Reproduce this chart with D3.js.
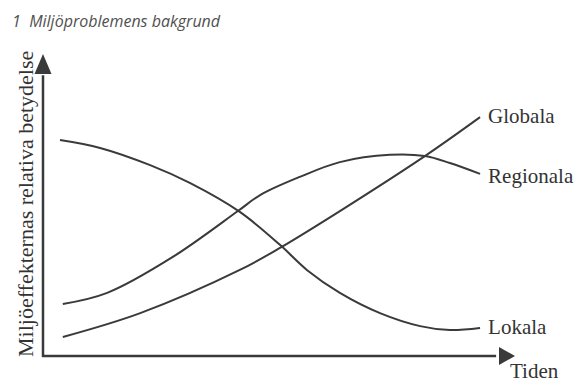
<!DOCTYPE html>
<html><head><meta charset="utf-8">
<script src="https://cdn.jsdelivr.net/npm/d3@7"></script>
<style>html,body{margin:0;padding:0;background:#fff;}svg{display:block;}</style>
</head><body>
<script>
const title = "1  Miljöproblemens bakgrund";
const yLabel = "Miljöeffekternas relativa betydelse";
const xLabel = "Tiden";
const seriesNames = ["Globala", "Regionala", "Lokala"];
const globalaX = [4.2, 20.6, 41.7, 50.2, 62.9, 80.9, 92.6];
const globalaY = [6.3, 14.2, 28.5, 35.8, 48.0, 66.2, 79.1];
const regionalaX = [4.2, 13.6, 27.5, 41.3, 46.0, 54.4, 62.9, 73.5, 80.9, 86.2, 92.6];
const regionalaY = [17.2, 20.9, 32.8, 48.0, 53.3, 59.3, 64.2, 66.6, 66.2, 63.9, 60.3];
const lokalaX = [3.6, 12.1, 22.7, 31.1, 41.7, 50.2, 55.9, 62.9, 71.4, 79.9, 86.2, 92.6];
const lokalaY = [71.5, 68.9, 63.2, 57.3, 47.7, 36.8, 28.5, 20.9, 14.2, 9.9, 8.6, 9.3];

const W = 579, H = 383;
const svg = d3.select("body").append("svg").attr("width", W).attr("height", H);
const x = d3.scaleLinear().domain([0, 100]).range([43, 515]);
const y = d3.scaleLinear().domain([0, 100]).range([356, 54]);

const ink = "#3a3a3a";
// title
svg.append("text").attr("x", 12).attr("y", 27)
  .attr("font-family", "Open Sans").attr("font-style", "italic")
  .attr("font-size", 16).attr("fill", "#505050")
  .style("white-space","pre").text(title);

// axes
svg.append("line").attr("x1", x(0)).attr("x2", x(0)).attr("y1", y(0) + 1).attr("y2", y(93))
  .attr("stroke", ink).attr("stroke-width", 2.5);
svg.append("line").attr("x1", x(0) - 1).attr("x2", x(96)).attr("y1", y(0)).attr("y2", y(0))
  .attr("stroke", ink).attr("stroke-width", 2.5);
// arrowheads
const tipY = [x(0), y(100)];
svg.append("path").attr("d", `M${tipY[0]},${tipY[1]} L${tipY[0]-8.5},${tipY[1]+20} L${tipY[0]+8.5},${tipY[1]+20} Z`).attr("fill", ink);
const tipX = [x(100), y(0)];
svg.append("path").attr("d", `M${tipX[0]},${tipX[1]} L${tipX[0]-16},${tipX[1]-9} L${tipX[0]-16},${tipX[1]+9} Z`).attr("fill", ink);

// series
const line = d3.line().x(d => x(d[0])).y(d => y(d[1])).curve(d3.curveCatmullRom.alpha(0.5));
const series = [
  [globalaX, globalaY],
  [regionalaX, regionalaY],
  [lokalaX, lokalaY]
];
const labelDy = [6, 9, 6];
series.forEach(([xs, ys], i) => {
  const pts = xs.map((v, j) => [v, ys[j]]);
  svg.append("path").attr("d", line(pts)).attr("fill", "none")
    .attr("stroke", ink).attr("stroke-width", 2);
  const last = pts[pts.length - 1];
  svg.append("text").attr("x", x(last[0]) + 8).attr("y", y(last[1]) + labelDy[i])
    .attr("font-family", "Liberation Serif").attr("font-size", 21).attr("fill", "#333")
    .text(seriesNames[i]);
});

// axis labels
svg.append("text").attr("x", 510).attr("y", 378)
  .attr("font-family", "Liberation Serif").attr("font-size", 21).attr("fill", "#333").text(xLabel);
svg.append("text").attr("transform", `translate(33,357) rotate(-90)`)
  .attr("font-family", "Liberation Serif").attr("font-size", 22).attr("fill", "#333").text(yLabel);
</script>
</body></html>
